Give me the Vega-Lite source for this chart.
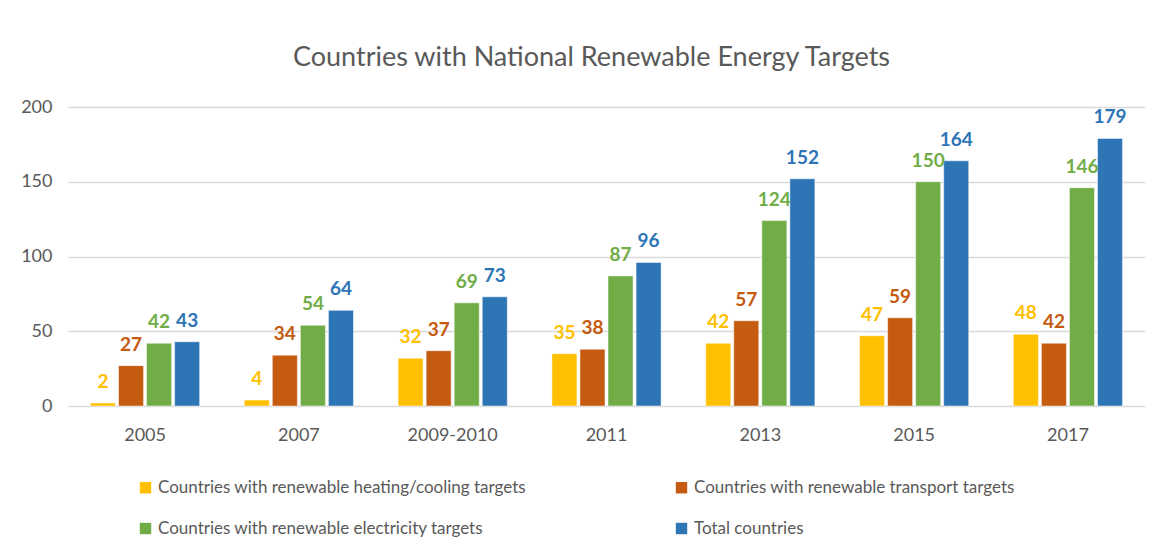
{
  "$schema": "https://vega.github.io/schema/vega-lite/v6.json",
  "width": 1077,
  "height": 299,
  "autosize": {"type": "none"},
  "padding": {"left": 68, "top": 107, "right": 17, "bottom": 150},
  "background": "white",
  "title": {
    "text": "Countries with National Renewable Energy Targets",
    "font": "Lato",
    "fontSize": 27,
    "fontWeight": "normal",
    "color": "#595959",
    "anchor": "middle",
    "offset": 26,
    "dx": -15
  },
  "config": {
    "view": {"stroke": null},
    "font": "Lato"
  },
  "data": {
    "values": [
      {"year": "2005", "series": "Countries with renewable heating/cooling targets", "order": 1, "value": 2},
      {"year": "2005", "series": "Countries with renewable transport targets", "order": 2, "value": 27},
      {"year": "2005", "series": "Countries with renewable electricity targets", "order": 3, "value": 42},
      {"year": "2005", "series": "Total countries", "order": 4, "value": 43},
      {"year": "2007", "series": "Countries with renewable heating/cooling targets", "order": 1, "value": 4},
      {"year": "2007", "series": "Countries with renewable transport targets", "order": 2, "value": 34},
      {"year": "2007", "series": "Countries with renewable electricity targets", "order": 3, "value": 54},
      {"year": "2007", "series": "Total countries", "order": 4, "value": 64},
      {"year": "2009-2010", "series": "Countries with renewable heating/cooling targets", "order": 1, "value": 32},
      {"year": "2009-2010", "series": "Countries with renewable transport targets", "order": 2, "value": 37},
      {"year": "2009-2010", "series": "Countries with renewable electricity targets", "order": 3, "value": 69},
      {"year": "2009-2010", "series": "Total countries", "order": 4, "value": 73},
      {"year": "2011", "series": "Countries with renewable heating/cooling targets", "order": 1, "value": 35},
      {"year": "2011", "series": "Countries with renewable transport targets", "order": 2, "value": 38},
      {"year": "2011", "series": "Countries with renewable electricity targets", "order": 3, "value": 87},
      {"year": "2011", "series": "Total countries", "order": 4, "value": 96},
      {"year": "2013", "series": "Countries with renewable heating/cooling targets", "order": 1, "value": 42},
      {"year": "2013", "series": "Countries with renewable transport targets", "order": 2, "value": 57},
      {"year": "2013", "series": "Countries with renewable electricity targets", "order": 3, "value": 124},
      {"year": "2013", "series": "Total countries", "order": 4, "value": 152},
      {"year": "2015", "series": "Countries with renewable heating/cooling targets", "order": 1, "value": 47},
      {"year": "2015", "series": "Countries with renewable transport targets", "order": 2, "value": 59},
      {"year": "2015", "series": "Countries with renewable electricity targets", "order": 3, "value": 150},
      {"year": "2015", "series": "Total countries", "order": 4, "value": 164},
      {"year": "2017", "series": "Countries with renewable heating/cooling targets", "order": 1, "value": 48},
      {"year": "2017", "series": "Countries with renewable transport targets", "order": 2, "value": 42},
      {"year": "2017", "series": "Countries with renewable electricity targets", "order": 3, "value": 146},
      {"year": "2017", "series": "Total countries", "order": 4, "value": 179}
    ]
  },
  "encoding": {
    "x": {
      "field": "year",
      "type": "nominal",
      "sort": null,
      "scale": {"paddingInner": 0.29, "paddingOuter": 0.146},
      "axis": {
        "title": null,
        "labelAngle": 0,
        "labelFontSize": 18,
        "labelColor": "#595959",
        "labelPadding": 20,
        "ticks": false,
        "domain": false
      }
    },
    "xOffset": {
      "field": "series",
      "type": "nominal",
      "sort": {"field": "order"},
      "scale": {"paddingInner": 0.107, "paddingOuter": 0}
    },
    "y": {
      "field": "value",
      "type": "quantitative",
      "scale": {"domain": [0, 200]},
      "axis": {
        "title": null,
        "values": [0, 50, 100, 150, 200],
        "labelFontSize": 18,
        "labelColor": "#595959",
        "labelPadding": 16,
        "ticks": false,
        "domain": false,
        "gridColor": "#d9d9d9",
        "gridWidth": 1.5
      }
    },
    "color": {
      "field": "series",
      "type": "nominal",
      "scale": {
        "domain": ["Countries with renewable heating/cooling targets", "Countries with renewable electricity targets", "Countries with renewable transport targets", "Total countries"],
        "range": ["#FFC000", "#70AD47", "#C55A11", "#2E75B6"]
      },
      "legend": {
        "title": null,
        "orient": "none",
        "legendX": 69,
        "legendY": 372,
        "columns": 2,
        "columnPadding": 147,
        "rowPadding": 23,
        "symbolType": "square",
        "symbolSize": 130,
        "symbolStrokeWidth": 0,
        "labelFontSize": 17,
        "labelColor": "#595959",
        "labelLimit": 500,
        "labelOffset": 4
      }
    }
  },
  "layer": [
    {"mark": {"type": "bar", "stroke": "white", "strokeWidth": 0.5}},
    {
      "mark": {"type": "text", "baseline": "alphabetic", "dy": -15, "fontSize": 19, "fontWeight": "bold"},
      "encoding": {"text": {"field": "value", "type": "quantitative"}}
    }
  ]
}
